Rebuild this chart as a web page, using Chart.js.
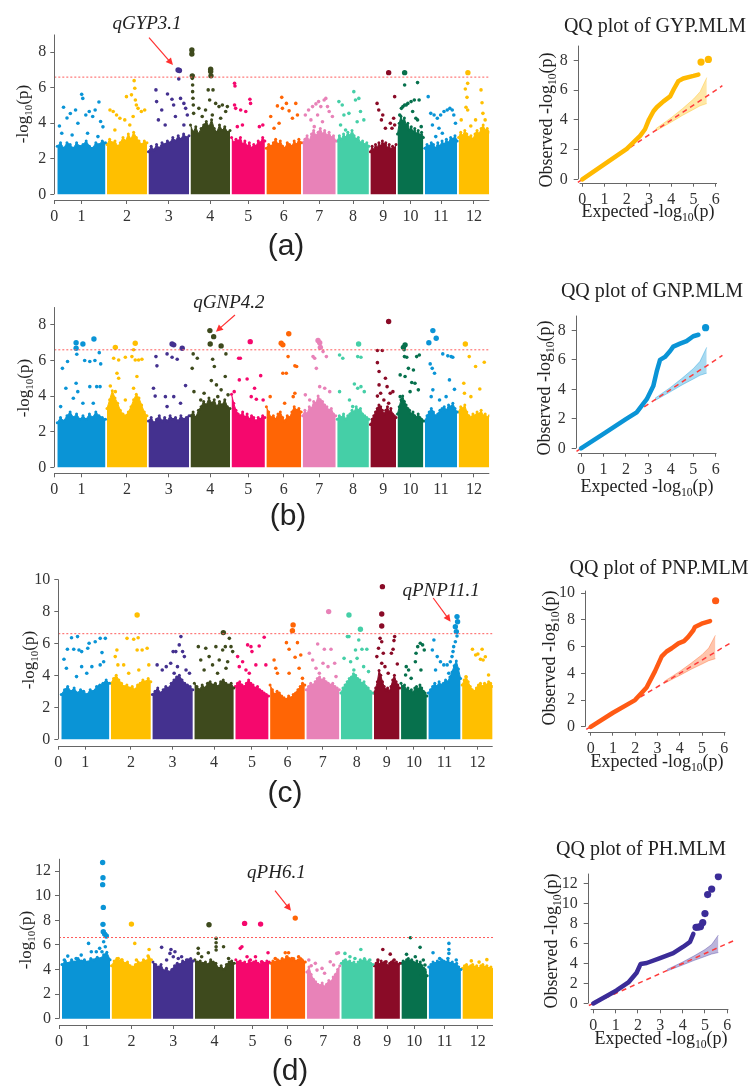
<!DOCTYPE html>
<html>
<head>
<meta charset="utf-8">
<script src="https://cdn.jsdelivr.net/npm/chart.js@4.4.1/dist/chart.umd.min.js"></script>
<style>
  body { margin: 0; width: 753px; height: 1086px; position: relative; background: #fff; overflow: hidden;
         font-family: "Liberation Serif", "Times New Roman", serif; color: #222; }
  canvas { position: absolute; }
  .txt { position: absolute; white-space: nowrap; transform: translate(-50%, -50%); line-height: 1; z-index: 2; }
  .rot { transform: translate(-50%, -50%) rotate(-90deg); }
  .sub { font-size: 65%; position: relative; top: 0.32em; }
  .panel { font-family: "Liberation Sans", Arial, sans-serif; font-size: 30px; }
</style>
</head>
<body>

<div class="txt rot" style="left:22px;top:114px;font-size:17px">-log<span class="sub">10</span>(p)</div>
<div class="txt rot" style="left:23px;top:388px;font-size:17px">-log<span class="sub">10</span>(p)</div>
<div class="txt rot" style="left:28px;top:660px;font-size:17px">-log<span class="sub">10</span>(p)</div>
<div class="txt rot" style="left:25px;top:940px;font-size:17px">-log<span class="sub">10</span>(p)</div>

<div class="txt panel" style="left:286px;top:245px">(a)</div>
<div class="txt panel" style="left:288px;top:515px">(b)</div>
<div class="txt panel" style="left:285px;top:792px">(c)</div>
<div class="txt panel" style="left:290px;top:1070px">(d)</div>

<div class="txt" style="left:655px;top:25px;font-size:20px">QQ plot of GYP.MLM</div>
<div class="txt" style="left:652px;top:290px;font-size:20px">QQ plot of GNP.MLM</div>
<div class="txt" style="left:659px;top:567px;font-size:20px">QQ plot of PNP.MLM</div>
<div class="txt" style="left:641px;top:848px;font-size:20px">QQ plot of PH.MLM</div>

<div class="txt rot" style="left:546px;top:120px;font-size:18px">Observed -log<span class="sub">10</span>(p)</div>
<div class="txt rot" style="left:544px;top:388px;font-size:18px">Observed -log<span class="sub">10</span>(p)</div>
<div class="txt rot" style="left:549px;top:658px;font-size:18px">Observed -log<span class="sub">10</span>(p)</div>
<div class="txt rot" style="left:551px;top:941px;font-size:18px">Observed -log<span class="sub">10</span>(p)</div>

<div class="txt" style="left:648px;top:211px;font-size:18px">Expected -log<span class="sub">10</span>(p)</div>
<div class="txt" style="left:647px;top:486px;font-size:18px">Expected -log<span class="sub">10</span>(p)</div>
<div class="txt" style="left:657px;top:761px;font-size:18px">Expected -log<span class="sub">10</span>(p)</div>
<div class="txt" style="left:661px;top:1038px;font-size:18px">Expected -log<span class="sub">10</span>(p)</div>

<script>
// chromosomes (rice, Mb)
const chromLabels = ["1", "2", "3", "4", "5", "6", "7", "8", "9", "10", "11", "12"];
const chromLengths = [43.27, 35.94, 36.41, 35.50, 29.96, 31.25, 29.70, 28.44, 23.01, 23.21, 29.02, 27.53];
const chromColors = ["#0a94d6", "#ffbf00", "#44318f", "#3e4a1d", "#f5086d", "#ff6505",
                     "#e882b8", "#45cfa7", "#8a0b27", "#07714d", "#0a94d6", "#ffbf00"];
const threshold = 6.6;

// dense lower mass of each chromosome (upper edge, evenly along the chromosome)
const gypBody = [
  [2.7,2.9,2.6,2.9,2.8,2.6,2.9,2.7,2.8,3.0,2.7,2.6,2.9,2.8,3.0,2.9],
  [2.8,3.1,2.9,3.0,2.7,2.9,3.2,3.0,3.4,3.1,3.5,3.2,3.0,2.8,3.0,2.9],
  [2.4,2.7,2.5,2.8,2.6,2.9,2.8,3.0,2.9,3.2,3.0,3.3,3.1,3.4,3.2,3.3],
  [3.9,3.5,3.8,3.4,3.7,3.9,4.1,3.8,4.2,3.7,3.5,3.9,3.6,3.8,3.5,3.6],
  [3.2,2.9,3.1,3.0,3.2,2.8,3.0,2.7,2.9,2.6,2.8,2.7,3.0,2.9,3.2,3.0],
  [2.6,2.8,2.7,2.9,3.1,2.8,3.0,2.7,2.6,2.9,2.8,2.7,3.0,2.8,3.1,2.9],
  [2.9,3.1,3.3,3.0,3.4,3.6,3.3,3.5,3.7,3.4,3.6,3.3,3.5,3.2,3.3,3.0],
  [3.0,3.3,3.1,3.4,3.2,3.5,3.3,3.6,3.3,3.1,3.2,2.9,3.0,2.8,2.9,2.7],
  [2.4,2.7,2.5,2.8,2.6,2.9,2.7,3.0,2.8,2.9,2.6,2.8,2.5,2.7,2.6,2.8],
  [3.4,4.0,4.4,4.1,4.3,3.9,4.0,3.6,3.8,3.5,3.7,3.4,3.6,3.3,3.5,3.2],
  [2.6,2.8,2.7,2.9,2.8,2.6,2.9,2.7,3.0,2.8,3.1,2.9,3.2,3.1,3.3,3.0],
  [3.2,3.5,3.3,3.6,3.4,3.2,3.3,3.1,3.4,3.6,3.4,3.7,3.9,3.6,3.7,3.5]
];
// [position in chromosome (Mb), -log10(p)]
const gypPoints = [
  [[1.9,3.85],[4,3.44],[5.6,4.9],[8.7,4.3],[11.7,4.55],[13.3,3.34],[16.4,4.75],[18.5,4.0],[21.9,5.63],[22.9,5.4],[25.6,4.47],[27.2,3.44],[28.7,4.66],[31.8,4.38],[34,4.75],[36.5,3.25],[37.4,5.2],[38.9,4.1],[41,3.8]],
  [[2.7,4.75],[5.6,4.66],[7.1,3.62],[8.6,4.47],[11.6,4.28],[16,4.19],[17.5,5.5],[20.5,3.9],[22,5.6],[23.5,4.38],[24.4,6.4],[25,5.97],[25.5,5.31],[26.4,5.03],[27.9,4.84],[30.9,4.66],[33.9,4.75]],
  [[6.7,5.88],[7.3,5.22],[8.9,4.19],[11.9,4.75],[15,3.9],[17.1,5.65],[21.1,5.35],[22.6,5.03],[24.2,4.38],[26.6,7.0],[27.8,6.97],[27.2,6.5],[28.8,5.4],[31.8,5.12],[31.8,3.9],[33.4,4.84],[34.9,4.47]],
  [[1.2,8.13],[1.2,7.9],[1.6,6.67],[1.6,6.53],[1.9,6.16],[1.9,5.78],[2.2,5.41],[2.5,5.03],[2.8,4.56],[7.5,4.84],[10.5,4.38],[13.5,4.75],[15.9,5.88],[17.2,5.31],[18.1,7.04],[18.1,6.91],[18.4,6.67],[19.6,4.47],[20.2,5.88],[22.6,5.12],[25.6,4.94],[27.1,4.28],[28.6,5.03],[31.6,4.66],[33.1,4.94]],
  [[2.7,6.25],[3.1,6.1],[2.7,5.03],[3.7,4.84],[5.2,3.81],[8.2,4.75],[9.8,3.9],[12.8,4.66],[16.5,5.35],[17.1,5.12],[25,3.81],[28.1,3.9]],
  [[3.9,4.38],[6.9,3.72],[9.9,4.98],[11.4,4.0],[13.8,5.46],[14.4,4.84],[18,5.12],[20.4,4.7],[23.4,4.28],[26.4,5.12],[27.9,4.47]],
  [[2.4,4.47],[5.3,4.75],[7.4,4.19],[8.9,4.94],[10.4,3.81],[11.9,5.09],[13.4,4.47],[14.3,5.22],[16.3,4.94],[17.8,4.09],[19.3,5.31],[20.8,5.4],[22.3,4.94],[23.8,4.66],[26.7,4.38]],
  [[1.5,5.22],[3,3.9],[4.5,5.03],[6,4.47],[7.5,3.62],[10.5,4.56],[14.9,5.78],[16.4,5.31],[17.9,4.09],[19.4,5.4],[20.9,4.66],[23.9,4.19]],
  [[6,5.12],[7.5,4.75],[9.9,4.19],[11.1,4.47],[13.5,3.72],[16.4,6.85],[17.9,4.0],[19.4,3.72],[20.9,4.28],[21.8,5.5],[21.8,3.9]],
  [[2,4.47],[3.5,4.84],[4.9,4.94],[6.4,6.85],[6.4,6.16],[6.4,5.03],[7.8,5.03],[9.3,5.12],[12.2,5.22],[13.6,4.66],[15.1,5.31],[16.5,4.28],[18,6.29],[18,4.19],[19.4,5.31],[21.3,3.81]],
  [[3,5.5],[5.3,4.56],[6.8,3.9],[8.3,4.47],[9.8,3.25],[11.2,4.28],[12.7,3.72],[14.2,4.47],[15.7,3.44],[17.2,4.66],[20.1,4.75],[22.5,4.84],[24.6,4.75],[26,4.47],[27.5,4.0]],
  [[2.3,4.19],[6,5.93],[6.6,4.9],[7.5,5.46],[8.1,6.25],[8.3,6.85],[8.1,4.75],[10.9,3.85],[15.2,4.19],[20.1,5.88],[21,5.16],[21.8,4.56],[23.8,4.19]]
];

const gnpBody = [
  [2.5,2.8,2.6,2.9,3.1,2.8,3.0,2.7,2.9,2.7,3.0,2.8,3.1,2.9,2.8,2.7],
  [3.3,3.8,4.3,3.9,3.6,3.2,3.0,2.9,3.1,3.4,3.8,4.1,3.9,3.5,3.1,2.9],
  [2.6,2.8,2.5,2.7,2.9,2.6,2.8,2.6,2.9,2.7,2.8,2.6,2.9,2.7,2.8,2.9],
  [2.9,3.1,2.8,3.2,3.4,3.7,3.5,3.9,3.6,3.8,3.4,3.7,3.5,3.8,3.4,3.3],
  [4.1,3.6,3.2,3.0,2.9,3.1,2.8,3.0,2.7,2.9,2.8,2.6,2.8,2.7,2.9,2.8],
  [3.4,3.1,2.8,2.9,2.7,3.0,3.1,2.8,2.6,2.9,2.8,3.1,3.4,3.2,3.3,3.1],
  [2.9,3.2,3.0,3.4,3.3,3.7,3.6,4.0,3.8,3.7,3.5,3.4,3.2,3.3,3.0,2.9],
  [2.7,2.9,2.8,3.0,2.7,2.9,3.0,3.2,3.1,3.4,3.2,3.3,3.0,2.9,2.8,2.7],
  [2.4,2.7,2.9,3.1,3.3,3.5,3.4,3.2,3.0,3.2,3.4,3.1,3.3,3.0,2.9,2.8],
  [3.0,3.4,3.8,4.0,3.7,3.5,3.3,3.2,3.0,3.1,2.9,2.8,3.0,2.8,2.7,2.6],
  [2.6,2.9,3.1,3.3,3.1,2.9,3.0,3.2,3.3,3.4,3.2,3.5,3.4,3.6,3.3,3.1],
  [3.1,3.4,3.3,3.5,3.1,2.9,2.8,3.0,2.9,3.1,3.0,3.2,2.9,3.0,2.8,2.9]
];
const gnpPoints = [
  [[3,3.41],[4.6,5.56],[7.7,4.44],[9.2,5.94],[14.4,3.88],[16.9,7.0],[16.9,6.69],[17.5,6.35],[16.9,4.72],[18.4,4.25],[23,6.93],[23,3.6],[24.6,6.0],[29.2,5.94],[29.2,4.53],[32.3,3.6],[32.9,7.21],[33.8,6.0],[35.4,4.53],[37.7,6.44],[38.4,4.53],[39,5.81]],
  [[3,4.57],[6,6.13],[7.5,6.74],[7.5,4.25],[9,5.28],[10.5,6.03],[10.5,5.0],[16.5,6.18],[16.5,3.78],[22.4,6.22],[23.9,6.6],[23.9,4.44],[25.4,6.97],[25.4,6.03],[26.9,5.1],[28.4,6.03],[31.4,6.07]],
  [[4.5,4.44],[6,4.0],[6.7,6.22],[7.6,5.7],[15.2,3.97],[16.7,6.37],[16.7,3.41],[21.2,6.93],[22.7,6.88],[21.2,6.18],[22.7,3.97],[25.8,6.07],[28.8,3.6],[30.3,6.69],[33.3,4.59]],
  [[1.5,5.56],[2.4,6.37],[3.1,4.25],[6.1,6.13],[9.2,3.78],[12.2,4.16],[17.4,7.68],[17.7,6.93],[18.7,4.87],[19.9,6.07],[20.8,7.34],[21.4,5.66],[23.3,4.63],[24.5,3.97],[27.5,6.82],[27.5,4.35],[31.2,5.1],[31.8,6.37],[33.7,4.07]],
  [[2.4,4.25],[6.4,6.13],[7.9,6.13],[7,4.91],[14,4.96],[16.8,7.06],[17.7,3.97],[20.7,4.44],[22.3,3.82],[26.2,5.15],[28.4,3.78]],
  [[3.4,3.97],[13.3,6.97],[14.8,6.88],[14.8,5.28],[16.4,3.6],[17.9,5.28],[19.5,6.22],[20.1,7.5],[24.1,3.97],[25.6,5.7],[25.6,4.16],[27.2,5.66]],
  [[2.4,4.07],[6.3,3.78],[9.3,6.22],[10.8,6.13],[12.3,5.56],[13.8,7.12],[15.3,7.0],[15.9,6.74],[15.3,4.53],[18.3,6.5],[19.8,4.44],[21.3,6.22],[24.3,4.25]],
  [[2.1,6.31],[2.1,4.25],[5,6.13],[11,3.78],[13.9,3.41],[15.4,4.68],[18.4,6.22],[18.4,4.44],[19.2,6.93],[21.3,6.18],[21.3,4.53],[24.3,4.25]],
  [[6.3,6.56],[6.3,5.88],[6.3,4.0],[7.8,5.38],[7.8,4.63],[9.2,4.16],[10.7,6.56],[12.1,3.78],[13.5,5.0],[15,4.53],[16.4,8.19],[16.4,3.6],[17.8,4.16],[20.2,4.25]],
  [[2.4,5.19],[2.4,3.97],[5.3,6.74],[5.9,6.6],[6.2,6.22],[6.8,6.88],[6.8,5.1],[8.3,6.18],[9.8,5.56],[11.3,4.25],[12.8,4.76],[14.3,5.47],[15.7,4.72],[17.2,6.22],[18.7,4.35],[19.6,6.31]],
  [[3.6,7.0],[4.8,5.81],[5.7,3.97],[6.6,5.56],[7.2,7.68],[7.2,4.35],[8.7,5.28],[10.2,7.25],[13.2,3.78],[16.1,6.37],[19.1,3.97],[20.6,6.26],[22.1,4.91],[23.6,6.22],[25.1,6.18],[26.6,4.38]],
  [[4.6,4.72],[5.2,4.16],[6,6.93],[9.5,6.22],[11,3.97],[15.2,5.66],[19,4.4],[23,5.9]]
];

const pnpBody = [
  [2.8,3.1,3.3,3.0,3.2,2.9,3.1,3.0,2.8,3.1,3.0,3.3,3.4,3.5,3.7,3.5],
  [3.5,3.8,4.0,3.7,3.5,3.3,3.4,3.2,3.3,3.1,3.4,3.5,3.7,3.6,3.8,3.6],
  [2.8,3.0,3.2,2.9,3.1,3.3,3.2,3.5,3.7,3.9,4.0,3.7,3.5,3.4,3.3,3.1],
  [3.5,3.3,3.1,3.4,3.2,3.5,3.6,3.4,3.5,3.3,3.6,3.7,3.5,3.4,3.5,3.2],
  [3.3,3.5,3.6,3.4,3.3,3.5,3.7,3.5,3.4,3.2,3.3,3.1,3.0,2.9,2.8,2.7],
  [3.4,3.1,2.8,3.0,2.9,2.7,2.6,2.5,2.7,2.6,2.8,2.9,3.1,3.3,3.5,3.4],
  [3.1,3.3,3.5,3.4,3.6,3.8,3.9,3.7,3.8,3.6,3.5,3.4,3.5,3.3,3.2,3.1],
  [2.9,3.2,3.4,3.6,3.8,3.9,4.1,4.0,3.8,3.7,3.5,3.6,3.3,3.2,3.0,2.9],
  [2.9,3.2,3.6,4.3,4.0,3.6,3.3,3.1,3.2,3.0,3.3,3.7,4.0,3.6,3.4,3.2],
  [3.5,3.3,3.4,3.1,3.2,3.0,3.1,2.9,3.2,3.3,3.1,3.4,3.2,3.0,2.9,2.7],
  [2.9,3.1,3.3,3.5,3.3,3.6,3.4,3.5,3.7,3.6,3.9,4.2,4.6,4.9,4.4,3.8],
  [3.4,3.7,3.9,3.6,3.3,3.1,3.0,3.2,3.4,3.5,3.3,3.5,3.4,3.6,3.5,3.3]
];
const pnpPoints = [
  [[2.4,5.0],[4.6,4.44],[5.5,5.63],[9.2,6.35],[11.2,5.63],[13.7,3.92],[14.6,6.42],[15.9,5.58],[18.3,5.48],[18.3,4.54],[22.9,4.13],[23.8,5.69],[25,6.0],[27.5,4.54],[30.5,6.1],[35,6.31],[35,4.65],[36.6,5.42],[38.1,4.85],[39.6,6.31]],
  [[3.9,5.17],[5.4,5.58],[6.3,4.65],[11.5,4.65],[14.5,6.31],[16,4.13],[20.5,6.25],[23.6,7.77],[23.6,5.58],[24.5,6.35],[25.1,4.33],[28.1,5.58],[32.6,5.69],[34.1,4.65]],
  [[4.3,4.65],[8.9,4.33],[12.5,4.54],[16.5,4.75],[18.7,5.48],[19.6,4.13],[21.1,5.48],[22.6,4.54],[24.2,5.9],[25.7,6.42],[27.2,5.48],[28.8,5.17],[30.3,4.33],[33.4,4.13]],
  [[3.6,5.79],[5.8,4.96],[8.8,4.33],[10.3,5.69],[13.3,5.17],[16.4,4.65],[19.4,5.79],[20.9,4.13],[22.4,4.96],[25.5,5.58],[26.1,6.67],[27.9,5.79],[28.5,4.44],[30,4.85],[31.5,6.31],[33,5.79],[34.5,5.48]],
  [[2.1,5.17],[3.6,4.54],[6.6,4.85],[9.6,4.33],[11.1,5.9],[12.6,4.13],[14.1,5.79],[15,5.48],[18.5,4.65],[21.5,5.83],[26,6.38],[27.5,4.65]],
  [[3.6,4.96],[5.1,4.44],[6.6,4.13],[14.7,6.04],[17.1,5.63],[17.1,4.13],[20.1,6.79],[20.7,7.15],[22.5,5.13],[24.6,6.04],[26.1,4.44],[27.6,5.27],[29.1,3.81]],
  [[2.7,5.38],[5.7,4.96],[8.7,4.44],[10.2,5.96],[11.7,4.13],[15,4.75],[16.2,5.63],[19.5,4.54],[20.1,7.98],[22.2,5.63],[25.5,4.75],[26.7,3.92]],
  [[2.9,5.06],[5.9,6.42],[7.3,6.42],[7.3,7.77],[8.8,4.85],[11.7,4.33],[13.2,5.58],[14.6,5.06],[16.1,6.21],[17.6,6.88],[19,5.63],[20.5,4.54],[23.4,5.63],[24.9,4.23]],
  [[2.6,5.17],[4.1,5.69],[5.5,6.31],[7,6.1],[7,4.75],[7,7.08],[7,7.83],[7.6,9.54],[8.4,5.38],[9.9,4.54],[12.8,4.13],[15.7,5.38],[17.2,5.63],[18,6.17],[18.6,6.42],[21,4.71]],
  [[4.1,4.02],[4.7,4.54],[6.8,4.33],[9.1,3.81],[12.9,4.85],[13.5,5.38],[15,5.79],[17.3,6.0],[17.9,4.33],[19.4,5.9],[20.9,5.58]],
  [[3.6,5.58],[5,6.21],[6.5,4.33],[8,5.17],[10.9,4.85],[13.9,4.65],[16.9,4.65],[18.4,4.13],[19.8,4.85],[21.3,5.17],[22.2,5.48],[22.8,5.79],[24.3,6.1],[24.3,7.04],[25.2,6.73],[25.8,6.46],[25.8,7.67],[26.3,7.35]],
  [[3.5,3.91],[9.3,5.63],[12.2,5.27],[14.2,5.33],[16.5,5.0],[18,5.63],[18.9,4.96],[20.9,5.16],[23.8,4.02]]
];

const phBody = [
  [4.4,4.7,4.5,4.8,4.6,4.9,4.7,4.8,4.6,4.9,4.8,5.0,4.9,5.2,5.4,4.8],
  [4.3,4.7,4.9,4.7,4.8,4.5,4.6,4.3,4.2,4.4,4.6,4.5,4.8,4.7,5.0,4.8],
  [4.6,4.4,4.2,4.4,3.9,4.1,3.8,4.0,4.3,4.5,4.4,4.7,4.6,4.8,4.9,4.7],
  [4.8,4.6,4.7,4.5,4.6,4.4,4.8,4.6,4.5,4.1,4.3,4.0,4.4,4.6,4.7,4.5],
  [4.8,4.6,4.7,4.5,4.6,4.4,4.7,4.5,4.6,4.7,4.5,4.4,4.6,4.5,4.7,4.6],
  [4.5,4.7,4.6,4.8,4.7,4.9,4.8,5.0,4.9,4.8,4.9,4.7,4.8,4.9,4.7,4.6],
  [3.8,4.2,3.6,3.2,3.0,2.8,2.7,2.9,2.6,2.8,3.1,3.0,3.4,3.6,4.0,4.3],
  [4.5,4.7,4.8,4.6,4.7,4.5,4.6,4.4,4.6,4.8,4.7,4.9,4.6,4.7,4.5,4.4],
  [4.3,4.5,4.6,4.4,4.7,4.5,4.6,4.4,4.3,4.5,4.6,4.7,4.5,4.6,4.4,4.5],
  [4.5,4.7,4.6,4.8,4.9,4.7,4.8,4.6,4.5,4.7,4.4,4.6,4.3,4.1,3.8,3.5],
  [4.2,4.4,4.6,4.5,4.7,4.6,4.8,4.7,4.6,4.7,4.5,4.6,4.4,4.5,4.2,4.0],
  [4.1,4.3,4.4,4.2,4.3,4.4,4.2,4.3,4.1,4.3,4.4,4.2,4.3,4.1,4.2,4.0]
];
const phPoints = [
  [[2.1,4.77],[5.2,5.09],[12.7,4.9],[17.3,5.17],[20.3,4.5],[23.9,6.12],[26.4,5.44],[30.9,5.44],[33.9,5.72],[36,5.44],[36.6,12.7],[36.9,11.46],[36.6,10.9],[37.2,9.05],[36.9,7.67],[37.2,7.07],[38.4,6.88],[39.9,6.72],[37.5,6.26],[39,5.85]],
  [[6,4.9],[9,4.77],[17.9,7.69],[20.9,6.12],[22.4,4.77],[26.9,4.5],[32.9,5.09],[33.8,5.63]],
  [[7.8,5.8],[12.3,4.77],[15.3,5.31],[16.2,5.63],[18.3,5.04],[19.8,5.44],[22.8,4.9],[25.8,5.04],[30.3,4.77]],
  [[3,5.72],[3,5.31],[6.1,5.04],[12.1,5.36],[12.7,7.64],[19.1,6.53],[19.1,6.18],[19.1,5.85],[19.1,5.58],[25.8,5.85],[30.3,4.9],[33.3,4.5]],
  [[4,5.72],[5.5,5.85],[7.9,7.75],[10.1,5.04],[13.1,4.77],[17.7,5.04],[22.3,7.69],[23.2,4.63],[29,5.36]],
  [[4.2,4.9],[13.2,5.36],[14.7,5.04],[16.2,5.36],[19.2,4.9],[22.2,8.18],[25.2,5.04],[28.2,4.77]],
  [[1.8,4.77],[4,4.3],[7.7,4.5],[9.2,3.95],[13.7,4.09],[16,3.7],[21.1,4.63],[24.1,4.36],[27,5.31],[28.5,5.36]],
  [[3.3,5.31],[7.8,5.04],[12.3,4.9],[17.6,5.63],[21.2,4.77],[25.7,4.77]],
  [[3.2,4.77],[7.6,5.63],[10.5,4.63],[14.3,5.25],[17.8,4.77]],
  [[4.6,5.23],[8.1,6.58],[12.5,5.04],[16.8,5.8],[18.3,3.55],[19.7,4.77],[21.2,4.36],[21.2,3.95]],
  [[3.9,5.36],[9.9,4.9],[17.3,4.9],[18.2,6.12],[18.2,5.63],[18.2,5.31],[24.8,4.77]],
  [[8,4.7],[15,4.6],[22,4.8]]
];

// QQ plots: expected vs observed -log10(p)
const gypQQExp = [0, 1, 2, 2.22, 2.6, 2.82, 3.0, 3.2, 3.35, 3.65, 3.95, 4.12, 4.32, 4.54, 5.0, 5.22];
const gypQQObs = [0, 1.02, 2.05, 2.38, 2.93, 3.37, 4.03, 4.58, 4.85, 5.25, 5.58, 6.08, 6.61, 6.79, 6.96, 7.05];
const gypQQTopExp = [5.34, 5.67];
const gypQQTopObs = [7.89, 8.07];

const gnpQQExp = [0, 1, 2, 2.48, 2.93, 3.22, 3.37, 3.52, 3.74, 3.97, 4.11, 4.41, 4.7, 5.0, 5.23];
const gnpQQObs = [0, 0.98, 1.98, 2.44, 3.33, 4.22, 5.2, 6.0, 6.2, 6.6, 6.9, 7.1, 7.27, 7.6, 7.7];
const gnpQQTopExp = [5.55];
const gnpQQTopObs = [8.18];

const pnpQQExp = [0, 1, 1.99, 2.51, 2.89, 3.19, 3.41, 3.64, 3.94, 4.19, 4.38, 4.61, 4.68, 4.98, 5.36];
const pnpQQObs = [0, 1.05, 2.0, 2.94, 4.17, 5.27, 5.64, 5.88, 6.25, 6.42, 6.74, 7.23, 7.48, 7.72, 7.92];
const pnpQQTopExp = [5.61];
const pnpQQTopObs = [9.44];

const phQQExp = [0, 1.04, 1.57, 1.94, 2.12, 2.39, 2.99, 3.58, 4.03, 4.33, 4.48];
const phQQObs = [0, 1.3, 2.1, 3.08, 3.96, 4.05, 4.54, 5.03, 5.68, 6.16, 6.97];
const phQQTopExp = [4.6, 4.7, 4.8, 4.9, 5.0, 5.12, 5.3, 5.6];
const phQQTopObs = [7.62, 7.65, 7.7, 8.1, 9.0, 10.9, 11.45, 12.7];

// 95% band around the expected line
const qqBandExp = [3.3, 4.0, 4.5, 5.0, 5.3, 5.6];
const qqBandUpper = [3.4, 4.15, 4.75, 5.4, 5.9, 6.85];
const qqBandLower = [3.25, 3.85, 4.3, 4.7, 4.95, 5.1];

// chromosome placement along the genome axis
const OFFSET = 2.7, GAP = 1.35;
const chromStarts = [];
let acc = OFFSET;
chromLengths.forEach(len => { chromStarts.push(acc); acc += len + GAP; });
const genomeEnd = acc - GAP;
const chromCenters = chromStarts.map((s, i) => s + chromLengths[i] / 2);

const SERIF = '"Liberation Serif", "Times New Roman", serif';
Chart.defaults.font.family = SERIF;
Chart.defaults.color = "#333";

function addCanvas(box) {
  const c = document.createElement("canvas");
  c.width = box.w;
  c.height = box.h;
  c.style.left = box.l + "px";
  c.style.top = box.t + "px";
  document.body.appendChild(c);
  return c;
}

const decor = {
  id: "decor",
  afterDraw(chart, args, o) {
    const { ctx, chartArea: a } = chart;
    const x = chart.scales.x, y = chart.scales.y;
    ctx.save();
    ctx.strokeStyle = "#666";
    ctx.lineWidth = 1;
    const lx = Math.round(a.left) + 0.5, ly = Math.round(a.bottom) + 0.5;
    ctx.beginPath();
    ctx.moveTo(lx, y.getPixelForValue(o.yFrom));
    ctx.lineTo(lx, a.top);
    ctx.moveTo(x.getPixelForValue(o.xFrom), ly);
    ctx.lineTo(a.right, ly);
    ctx.stroke();

    if (o.note) {
      const n = o.note;
      ctx.font = 'italic 19px "Liberation Serif"';
      ctx.fillStyle = "#222";
      ctx.textAlign = "center";
      ctx.textBaseline = "middle";
      ctx.fillText(n.text, x.getPixelForValue(n.tx), y.getPixelForValue(n.ty));
      const x0 = x.getPixelForValue(n.x0), y0 = y.getPixelForValue(n.y0);
      const x1 = x.getPixelForValue(n.x1), y1 = y.getPixelForValue(n.y1);
      const ang = Math.atan2(y1 - y0, x1 - x0);
      ctx.strokeStyle = "#ff3030";
      ctx.fillStyle = "#ff3030";
      ctx.lineWidth = 1.2;
      ctx.beginPath();
      ctx.moveTo(x0, y0);
      ctx.lineTo(x1 - 5 * Math.cos(ang), y1 - 5 * Math.sin(ang));
      ctx.stroke();
      ctx.beginPath();
      ctx.moveTo(x1, y1);
      ctx.lineTo(x1 - 7 * Math.cos(ang) + 3.5 * Math.sin(ang), y1 - 7 * Math.sin(ang) - 3.5 * Math.cos(ang));
      ctx.lineTo(x1 - 7 * Math.cos(ang) - 3.5 * Math.sin(ang), y1 - 7 * Math.sin(ang) + 3.5 * Math.cos(ang));
      ctx.closePath();
      ctx.fill();
    }
    ctx.restore();
  }
};

function scalesFor(lay, xMin, xMax, xTicks, xLabels, yMin, yMax, yTicks, yPad) {
  const tickFont = { family: SERIF, size: 16 };
  return {
    x: {
      type: "linear", min: xMin, max: xMax,
      afterBuildTicks: s => { s.ticks = xTicks.map(v => ({ value: v })); },
      afterFit: s => { s.height = lay.box.t + lay.box.h - lay.area.b; },
      grid: { drawOnChartArea: false, drawTicks: true, tickLength: 4, color: "#666" },
      border: { display: false },
      ticks: { font: tickFont, color: "#333", padding: 3, maxRotation: 0, autoSkip: false, callback: (v, i) => xLabels[i] }
    },
    y: {
      type: "linear", min: yMin, max: yMax,
      afterBuildTicks: s => { s.ticks = yTicks.map(v => ({ value: v })); },
      afterFit: s => { s.width = lay.area.l - lay.box.l; },
      grid: { drawOnChartArea: false, drawTicks: true, tickLength: 4, color: "#666" },
      border: { display: false },
      ticks: { font: tickFont, color: "#333", padding: yPad, autoSkip: false, callback: (v, i) => String(yTicks[i]) }
    }
  };
}

function baseOptions(lay, scales, decorOpts) {
  return {
    responsive: false,
    animation: false,
    events: [],
    layout: { padding: { left: 0, top: lay.area.t - lay.box.t, right: lay.box.l + lay.box.w - lay.area.r, bottom: 0 } },
    scales: scales,
    plugins: { legend: { display: false }, tooltip: { enabled: false }, decor: decorOpts }
  };
}

function manhattan(lay, body, points, yTicks, note) {
  const canvas = addCanvas(lay.box);
  const unit = (lay.zero - lay.area.t) / lay.yMax;
  const yMin = -(lay.area.b - lay.zero) / unit;
  const datasets = [];
  body.forEach((vals, i) => {
    const step = chromLengths[i] / (vals.length - 1);
    datasets.push({
      type: "line", showLine: true, order: 3,
      data: vals.map((v, k) => ({ x: chromStarts[i] + k * step, y: v })),
      borderColor: chromColors[i], backgroundColor: chromColors[i],
      borderWidth: 1, pointRadius: 1.5, pointBorderWidth: 0, fill: "origin", tension: 0
    });
  });
  points.forEach((pts, i) => {
    datasets.push({
      type: "scatter", order: 2,
      data: pts.map(p => ({ x: chromStarts[i] + p[0], y: p[1] })),
      backgroundColor: chromColors[i], borderWidth: 0,
      pointRadius: c => (c.raw && c.raw.y > threshold ? 2.7 : 1.8)
    });
  });
  datasets.push({
    type: "line", showLine: true, order: 1,
    data: [{ x: 0, y: threshold }, { x: genomeEnd, y: threshold }],
    borderColor: "#ff5a5a", borderWidth: 1, borderDash: [2, 2], pointRadius: 0, fill: false
  });
  const scales = scalesFor(lay, 0, genomeEnd, [0].concat(chromCenters), ["0"].concat(chromLabels),
                           yMin, lay.yMax, yTicks, 4);
  new Chart(canvas, {
    type: "scatter",
    data: { datasets },
    options: baseOptions(lay, scales, { xFrom: 0, yFrom: 0, note: note }),
    plugins: [decor]
  });
}

function qqPlot(lay, color, bandColor, obsExp, obsVal, topExp, topVal, yTicks) {
  const canvas = addCanvas(lay.box);
  const ux = (lay.x6 - lay.x0) / 6;
  const xMin = -(lay.x0 - lay.area.l) / ux, xMax = (lay.area.r - lay.x0) / ux;
  const uy = (lay.zero - lay.area.t) / lay.yTop;
  const yMin = -(lay.area.b - lay.zero) / uy;
  const datasets = [
    { type: "line", showLine: true, order: 4, data: qqBandExp.map((v, i) => ({ x: v, y: qqBandUpper[i] })),
      borderColor: bandColor, backgroundColor: bandColor, borderWidth: 1, pointRadius: 0, fill: "+1" },
    { type: "line", showLine: true, order: 4, data: qqBandExp.map((v, i) => ({ x: v, y: qqBandLower[i] })),
      borderColor: bandColor, borderWidth: 1, pointRadius: 0, fill: false },
    { type: "line", showLine: true, order: 3, data: [{ x: -0.2, y: -0.2 }, { x: 6.3, y: 6.3 }], clip: false,
      borderColor: "#ff3b3b", borderWidth: 1.5, borderDash: [5, 4], pointRadius: 0, fill: false },
    { type: "line", showLine: true, order: 2, data: obsExp.map((v, i) => ({ x: v, y: obsVal[i] })),
      borderColor: color, borderWidth: 4.5, borderCapStyle: "round", borderJoinStyle: "round",
      pointRadius: 0, fill: false, tension: 0 },
    { type: "scatter", order: 1, data: topExp.map((v, i) => ({ x: v, y: topVal[i] })),
      backgroundColor: color, borderWidth: 0, pointRadius: 3.6 }
  ];
  const scales = scalesFor(lay, xMin, xMax, [0, 1, 2, 3, 4, 5, 6], ["0", "1", "2", "3", "4", "5", "6"],
                           yMin, lay.yTop, yTicks, 6);
  new Chart(canvas, {
    type: "scatter",
    data: { datasets },
    options: baseOptions(lay, scales, { xFrom: -0.12, yFrom: 0, note: null }),
    plugins: [decor]
  });
}

manhattan({ box: { l: 0, t: 0, w: 505, h: 230 }, area: { l: 54.3, r: 489.3, t: 34.5, b: 200 }, zero: 194.3, yMax: 9 },
  gypBody, gypPoints, [0, 2, 4, 6, 8],
  { text: "qGYP3.1", tx: 83.3, ty: 9.59, x0: 85.1, y0: 8.82, x1: 106.6, y1: 7.28 });
manhattan({ box: { l: 0, t: 262, w: 505, h: 242 }, area: { l: 54.3, r: 489.3, t: 307.1, b: 473.3 }, zero: 467.3, yMax: 9 },
  gnpBody, gnpPoints, [0, 2, 4, 6, 8],
  { text: "qGNP4.2", tx: 156.9, ty: 9.23, x0: 162.3, y0: 8.56, x1: 145.2, y1: 7.62 });
manhattan({ box: { l: 0, t: 535, w: 505, h: 240 }, area: { l: 58.3, r: 492.7, t: 579.3, b: 745.7 }, zero: 739.3, yMax: 10 },
  pnpBody, pnpPoints, [0, 2, 4, 6, 8, 10],
  { text: "qPNP11.1", tx: 344.3, ty: 9.27, x0: 337.3, y0: 8.83, x1: 352.9, y1: 7.35 });
manhattan({ box: { l: 0, t: 815, w: 505, h: 240 }, area: { l: 59, r: 493, t: 858.8, b: 1025 }, zero: 1018.7, yMax: 13 },
  phBody, phPoints, [0, 2, 4, 6, 8, 10, 12],
  { text: "qPH6.1", tx: 195.7, ty: 11.82, x0: 194.5, y0: 10.41, x1: 208.9, y1: 8.78 });

qqPlot({ box: { l: 515, t: 30, w: 238, h: 195 }, area: { l: 577.7, r: 717, t: 43.2, b: 182.7 }, x0: 582.3, x6: 715.7, zero: 179.3, yTop: 9 },
  "#ffb900", "rgba(255,185,0,0.35)", gypQQExp, gypQQObs, gypQQTopExp, gypQQTopObs, [0, 2, 4, 6, 8]);
qqPlot({ box: { l: 515, t: 300, w: 238, h: 182 }, area: { l: 575.7, r: 716.5, t: 313.3, b: 452.7 }, x0: 581, x6: 715.7, zero: 448.3, yTop: 9 },
  "#0a94d6", "rgba(10,148,214,0.35)", gnpQQExp, gnpQQObs, gnpQQTopExp, gnpQQTopObs, [0, 2, 4, 6, 8]);
qqPlot({ box: { l: 515, t: 575, w: 238, h: 188 }, area: { l: 585, r: 725.4, t: 588, b: 731.7 }, x0: 590.7, x6: 724.3, zero: 726.7, yTop: 10.2 },
  "#ff5a14", "rgba(255,90,20,0.35)", pnpQQExp, pnpQQObs, pnpQQTopExp, pnpQQTopObs, [0, 2, 4, 6, 8, 10]);
qqPlot({ box: { l: 515, t: 858, w: 238, h: 182 }, area: { l: 587.7, r: 728.4, t: 869.7, b: 1009.3 }, x0: 593.3, x6: 727.3, zero: 1003.3, yTop: 13 },
  "#3b2c98", "rgba(59,44,152,0.35)", phQQExp, phQQObs, phQQTopExp, phQQTopObs, [0, 2, 4, 6, 8, 10, 12]);
</script>
</body>
</html>
